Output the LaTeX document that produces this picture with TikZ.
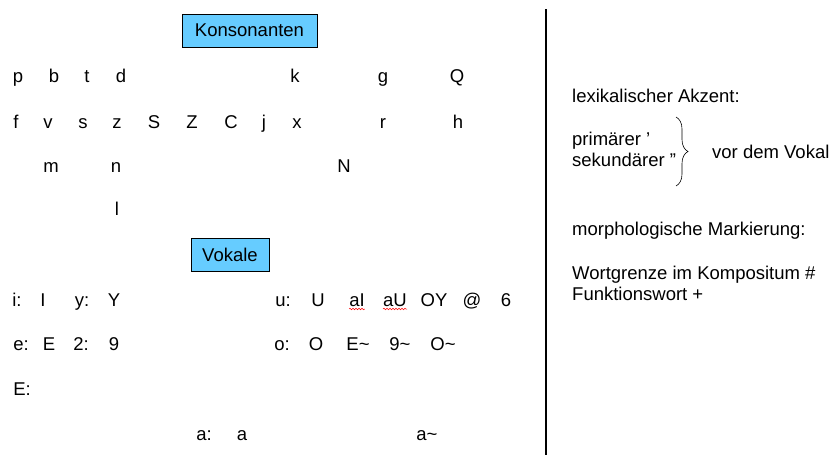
\documentclass[tikz,border=0pt]{standalone}
\usepackage{fontspec}
\setmainfont{Liberation Sans}
\usetikzlibrary{decorations.pathreplacing,decorations.pathmorphing}
\definecolor{boxblau}{HTML}{66CCFF}
\begin{document}
\begin{tikzpicture}[x=1pt,y=-1pt,
    laut/.style={anchor=base,inner sep=0pt,font=\fontsize{18.5}{22}\selectfont},
    zeile/.style={anchor=base west,inner sep=0pt,font=\fontsize{18.5}{22}\selectfont},
    titel/.style={draw,fill=boxblau,line width=0.8pt,minimum height=33pt,inner sep=0pt,font=\fontsize{18.5}{22}\selectfont}]
    \useasboundingbox (0,0) rectangle (840,466);

    % Konsonanten
    \node[titel,minimum width=135pt] (kons) at (249.5,30.5) {Konsonanten};
    \foreach \x/\t [count=\i] in {18/p,54/b,87/t,121/d,295/k,383/g,457/Q}
        \node[laut] (k1-\i) at (\x,82) {\t};
    \foreach \x/\t [count=\i] in {16/f,48/v,83/s,117/z,154/S,192/Z,231/C,264/j,297/x,383/r,458/h}
        \node[laut] (k2-\i) at (\x,128) {\t};
    \foreach \x/\t [count=\i] in {51/m,116/n,344/N}
        \node[laut] (k3-\i) at (\x,172) {\t};
    \node[laut] (k4-1) at (117,215) {l};

    % Vokale
    \node[titel,minimum width=78pt] (vok) at (230,254.5) {Vokale};
    \foreach \x/\t [count=\i] in {17/i:,43/I,82/y:,114/Y,283/u:,318/U,357/aI,395/aU,434/OY,472/@,506/6}
        \node[laut] (v1-\i) at (\x,306) {\t};
    \foreach \x/\t [count=\i] in {21/e:,49/E,81/2:,114/9,282/o:,316/O,358/E\textasciitilde,400/9\textasciitilde,443/O\textasciitilde}
        \node[laut] (v2-\i) at (\x,350) {\t};
    \node[laut] (v3-1) at (22,395) {E:};
    \foreach \x/\t [count=\i] in {204/a:,242/a,427/a\textasciitilde}
        \node[laut] (v4-\i) at (\x,440) {\t};

    % Rechtschreibpruefung
    \draw[red,line width=0.5pt,decorate,decoration={snake,amplitude=0.8pt,segment length=3pt}]
        ([yshift=-3pt]v1-7.base west) -- ([yshift=-3pt]v1-7.base east);
    \draw[red,line width=0.5pt,decorate,decoration={snake,amplitude=0.8pt,segment length=3pt}]
        ([yshift=-3pt]v1-8.base west) -- ([yshift=-3pt]v1-8.base east);

    % Trennlinie
    \coordinate (oben) at (546,9);
    \coordinate (unten) at (546,455);
    \draw[line width=2pt] (oben) -- (unten);

    % Akzent und Markierung
    \node[zeile] (akzent) at (572,102) {lexikalischer Akzent:};
    \node[zeile] (prim) at (572,145) {primärer ’};
    \node[zeile] (sek) at (572,166) {sekundärer ”};
    \coordinate (klo) at (676,117);
    \coordinate (klu) at (676,186);
    \draw[line width=0.6pt,decorate,decoration={brace,amplitude=12pt}] (klo) -- (klu);
    \node[zeile] (vokal) at (712,158) {vor dem Vokal};
    \node[zeile] (morph) at (572,235) {morphologische Markierung:};
    \node[zeile] (wort) at (572,279) {Wortgrenze im Kompositum \#};
    \node[zeile] (funk) at (572,300) {Funktionswort +};
\end{tikzpicture}
\end{document}
